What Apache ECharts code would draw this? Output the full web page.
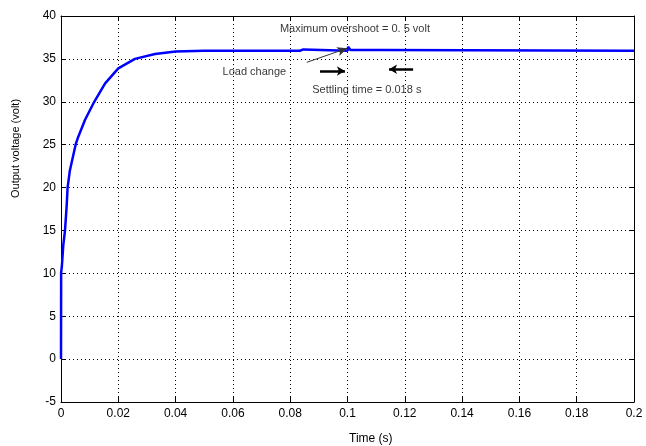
<!DOCTYPE html>
<html>
<head>
<meta charset="utf-8">
<script src="https://cdn.jsdelivr.net/npm/echarts@6/dist/echarts.min.js"></script>
<style>
  html, body { margin: 0; padding: 0; background: #fff; }
  #chart { width: 646px; height: 446px; }
</style>
</head>
<body>
<div id="chart"></div>
<script>
// Converter output voltage step response (time in seconds, voltage in volts)
const timeS = [0, 0.00005, 0.0003, 0.0005, 0.0008, 0.0014, 0.002, 0.0023, 0.0031, 0.0051,
  0.006, 0.0084, 0.0116, 0.0154, 0.02, 0.0258, 0.0328, 0.04, 0.05, 0.0834,
  0.0836, 0.0846, 0.0848, 0.1, 0.1002, 0.1008, 0.101, 0.112, 0.1122, 0.2];
const voltage = [0, 10.1, 10.8, 11.0, 13.3, 15, 18, 20, 22, 25,
  25.9, 27.9, 30, 32.15, 33.9, 35, 35.57, 35.85, 35.95, 35.95,
  36.1, 36.1, 35.95, 35.95, 36.4, 36.4, 36.05, 36.05, 35.95, 35.95];

const xTickLabels = ['0', '0.02', '0.04', '0.06', '0.08', '0.1', '0.12', '0.14', '0.16', '0.18', '0.2'];
const yTickLabels = ['-5', '0', '5', '10', '15', '20', '25', '30', '35', '40'];

// Annotation texts anchored at their left edge, in data coordinates
const noteTexts = ['Maximum overshoot = 0. 5 volt', 'Load change', 'Settling time = 0.018 s'];
const noteAnchors = [[0.0764, 38.53], [0.0564, 33.44], [0.0877, 31.38]];

// Arrows: [start, end] in data coordinates
const pointerArrow = [[0.0858, 34.6], [0.0999, 36.24]];
const settleArrows = [
  [[0.0904, 33.59], [0.0991, 33.59]],
  [[0.1229, 33.79], [0.1145, 33.79]]
];

const FONT = 'Liberation Sans, Arial, sans-serif';
const seriesData = timeS.map((t, i) => [t, voltage[i]]);

const baseX = {
  type: 'value', min: 0, max: 0.2, interval: 0.02,
  axisLine: { show: true, onZero: false, lineStyle: { color: '#000', width: 1 } },
  axisTick: { show: true, inside: true, length: 5, lineStyle: { color: '#000' } }
};
const baseY = {
  type: 'value', min: -5, max: 40, interval: 5,
  axisLine: { show: true, onZero: false, lineStyle: { color: '#000', width: 1 } },
  axisTick: { show: true, inside: true, length: 5, lineStyle: { color: '#000' } }
};

const chart = echarts.init(document.getElementById('chart'), null, { renderer: 'canvas' });
chart.setOption({
  backgroundColor: '#fff',
  animation: false,
  grid: { left: 61, right: 12, top: 16, bottom: 44 },
  xAxis: [
    Object.assign({}, baseX, {
      position: 'bottom',
      axisLabel: {
        color: '#000', fontFamily: FONT, fontSize: 12, margin: 6,
        formatter: v => xTickLabels[Math.round(v / 0.02)]
      },
      splitLine: { show: true, lineStyle: { color: '#000', width: 1, type: [1, 3] } }
    }),
    Object.assign({}, baseX, {
      position: 'top', axisLabel: { show: false }, splitLine: { show: false }
    })
  ],
  yAxis: [
    Object.assign({}, baseY, {
      position: 'left',
      axisLabel: {
        color: '#000', fontFamily: FONT, fontSize: 12, margin: 5,
        formatter: v => yTickLabels[Math.round((v + 5) / 5)]
      },
      splitLine: { show: true, lineStyle: { color: '#000', width: 1, type: [1, 3] } }
    }),
    Object.assign({}, baseY, {
      position: 'right', axisLabel: { show: false }, splitLine: { show: false }
    })
  ],
  series: [
    {
      type: 'line',
      data: seriesData,
      showSymbol: false,
      lineStyle: { color: '#0000ff', width: 2.5 },
      z: 3,
      markLine: {
        silent: true,
        symbol: ['none', 'arrow'],
        label: { show: false },
        data: [
          [
            { coord: pointerArrow[0], symbol: 'none', lineStyle: { color: '#333', width: 1, type: 'solid' } },
            { coord: pointerArrow[1], symbol: 'arrow', symbolSize: [7, 10] }
          ]
        ].concat(settleArrows.map(a => [
          { coord: a[0], symbol: 'none', lineStyle: { color: '#000', width: 2.5, type: 'solid' } },
          { coord: a[1], symbol: 'arrow', symbolSize: [7, 8] }
        ]))
      }
    },
    {
      type: 'scatter',
      data: noteAnchors.map((p, i) => ({ value: p, name: noteTexts[i] })),
      symbolSize: 0,
      silent: true,
      label: {
        show: true, position: 'right', distance: 0,
        color: '#000', fontFamily: FONT, fontSize: 11,
        formatter: p => p.name
      },
      z: 5
    }
  ],
  graphic: [
    {
      type: 'text', left: 349, top: 433,
      style: { text: 'Time (s)', fill: '#000', font: '12px ' + FONT }
    },
    {
      type: 'text', x: 10, y: 198, rotation: Math.PI / 2,
      style: { text: 'Output voltage (volt)', fill: '#000', font: '11px ' + FONT, textVerticalAlign: 'top' }
    }
  ]
});
</script>
</body>
</html>
